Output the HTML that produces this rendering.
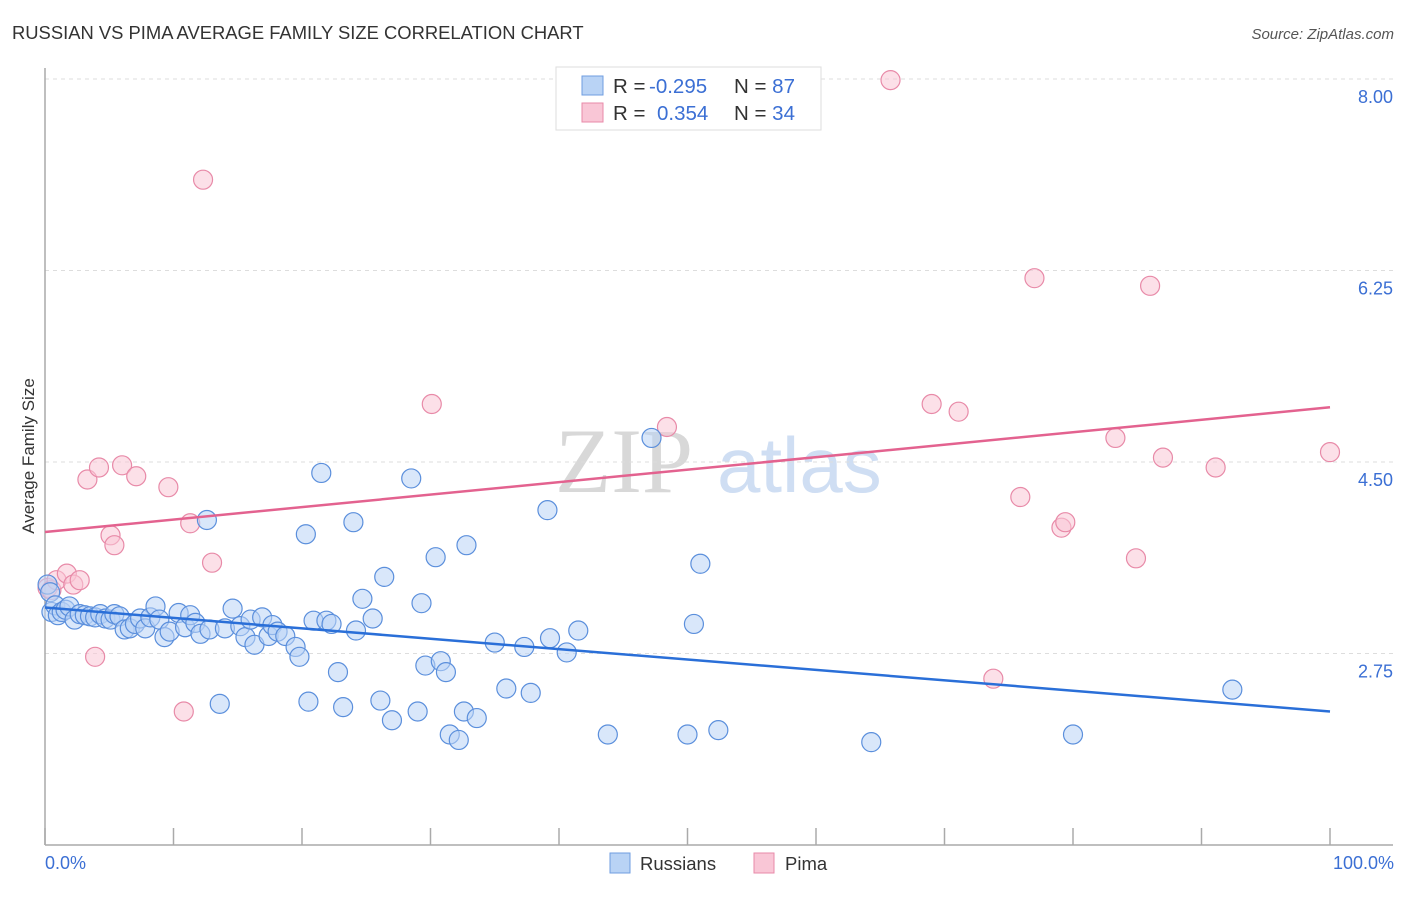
<!DOCTYPE html>
<html><head><meta charset="utf-8"><style>
body{margin:0;background:#fff;font-family:"Liberation Sans",sans-serif}
</style></head><body>
<svg width="1406" height="892" xmlns="http://www.w3.org/2000/svg" style="font-family:'Liberation Sans',sans-serif">
<text x="12" y="39" font-size="18.4" fill="#333">RUSSIAN VS PIMA AVERAGE FAMILY SIZE CORRELATION CHART</text>
<text x="1394" y="39" font-size="15" fill="#555" font-style="italic" text-anchor="end">Source: ZipAtlas.com</text>
<g>
<text x="555" y="492" font-size="92" font-family="Liberation Serif" fill="#d8d8d8">ZIP</text>
<text x="717" y="492" font-size="78" fill="#cfdef3">atlas</text>
</g>
<g id="grid"></g>
<g id="axes"></g>
<g id="marks"></g>
<text transform="translate(34,456) rotate(-90)" font-size="17" fill="#333" text-anchor="middle">Average Family Size</text>
<text x="45" y="869" font-size="18" fill="#3b6fd4">0.0%</text>
<text x="1394" y="869" font-size="18" fill="#3b6fd4" text-anchor="end">100.0%</text>
<g>
<rect x="556" y="67" width="265" height="63" fill="#fff" stroke="#ddd"/>
<rect x="582" y="76" width="21" height="19" fill="#b9d3f5" stroke="#6f9ee0"/>
<rect x="582" y="103" width="21" height="19" fill="#f9c6d6" stroke="#e88aa8"/>
<text x="613" y="93" font-size="20.5" fill="#333">R = <tspan x="649" fill="#3b6fd4">-0.295</tspan><tspan x="734">N = </tspan><tspan fill="#3b6fd4">87</tspan></text>
<text x="613" y="120" font-size="20.5" fill="#333">R = <tspan x="657" fill="#3b6fd4">0.354</tspan><tspan x="734">N = </tspan><tspan fill="#3b6fd4">34</tspan></text>
</g>
<g>
<rect x="610" y="853" width="20" height="20" fill="#b9d3f5" stroke="#6f9ee0"/>
<text x="640" y="870" font-size="18.5" fill="#333">Russians</text>
<rect x="754" y="853" width="20" height="20" fill="#f9c6d6" stroke="#e88aa8"/>
<text x="785" y="870" font-size="18.5" fill="#333">Pima</text>
</g>
</svg>
<script>
const yTicks=[8.00,6.25,4.50,2.75];
const yTickLabels=["8.00","6.25","4.50","2.75"];
const xTickCount=10;
const russiansX=[0.2,0.4,0.5,0.8,1.0,1.3,1.6,1.9,2.3,2.7,3.1,3.5,3.9,4.3,4.7,5.1,5.4,5.8,6.2,6.6,7.0,7.4,7.8,8.2,8.6,8.9,9.3,9.7,10.4,10.9,11.3,11.7,12.1,12.6,12.8,13.6,14.0,14.6,15.2,15.6,16.0,16.3,16.9,17.4,17.7,18.1,18.7,19.5,19.8,20.5,20.3,20.9,21.5,21.9,22.3,22.8,23.2,24.0,24.2,24.7,25.5,26.1,26.4,27.0,28.5,29.0,29.3,29.6,30.4,30.8,31.2,31.5,32.2,32.6,32.8,33.6,35.0,35.9,37.3,37.8,39.1,39.3,40.6,41.5,43.8,47.2,50.0,50.5,51.0,52.4,64.3,80.0,92.4];
const russiansY=[3.38,3.31,3.13,3.19,3.10,3.13,3.15,3.18,3.06,3.11,3.10,3.09,3.08,3.11,3.07,3.06,3.11,3.09,2.97,2.98,3.02,3.07,2.98,3.08,3.18,3.06,2.90,2.95,3.12,2.99,3.10,3.03,2.93,3.97,2.97,2.29,2.98,3.16,3.00,2.90,3.06,2.83,3.08,2.91,3.01,2.95,2.91,2.81,2.72,2.31,3.84,3.05,4.40,3.05,3.02,2.58,2.26,3.95,2.96,3.25,3.07,2.32,3.45,2.14,4.35,2.22,3.21,2.64,3.63,2.68,2.58,2.01,1.96,2.22,3.74,2.16,2.85,2.43,2.81,2.39,4.06,2.89,2.76,2.96,2.01,4.72,2.01,3.02,3.57,2.05,1.94,2.01,2.42];
const pimaX=[0.2,0.5,0.9,1.7,2.2,2.7,3.3,3.9,4.2,5.1,5.4,6.0,7.1,9.6,10.8,11.3,12.3,13.0,30.1,48.4,65.8,69.0,71.1,73.8,75.9,77.0,79.1,79.4,83.3,84.9,86.0,87.0,91.1,100];
const pimaY=[3.35,3.33,3.42,3.48,3.38,3.42,4.34,2.72,4.45,3.83,3.74,4.47,4.37,4.27,2.22,3.94,7.08,3.58,5.03,4.82,7.99,5.03,4.96,2.52,4.18,6.18,3.90,3.95,4.72,3.62,6.11,4.54,4.45,4.59];
const russiansTrend=[3.17,2.22];
const pimaTrend=[3.86,5.00];
const NS="http://www.w3.org/2000/svg";
const X0=45,X1=1330,GY0=79,PXU=109.43;
function xs(p){return X0+(X1-X0)*p/100;}
function ys(v){return GY0+(8-v)*PXU;}
function mk(tag,attrs,parent){const e=document.createElementNS(NS,tag);for(const k in attrs)e.setAttribute(k,attrs[k]);parent.appendChild(e);return e;}
const grid=document.getElementById('grid'),axes=document.getElementById('axes'),marks=document.getElementById('marks');
yTicks.forEach((t,i)=>{
 const l=mk('line',{x1:X0,x2:1393,y1:ys(t),y2:ys(t),stroke:'#ddd','stroke-dasharray':'4,4'},grid);
 
 
 const tx=mk('text',{x:1393,y:ys(t)+24,'font-size':18,fill:'#3b6fd4','text-anchor':'end'},grid);
 tx.textContent=yTickLabels[i];
 
 
});
const ya=mk('line',{x1:X0,x2:X0,y1:68,y2:845,stroke:'#aaa','stroke-width':1.5},axes);


const xa=mk('line',{x1:X0,x2:1393,y1:845,y2:845,stroke:'#aaa','stroke-width':1.5},axes);


for(let i=0;i<=xTickCount;i++){
 const t=mk('line',{x1:xs(i*10),x2:xs(i*10),y1:828,y2:845,stroke:'#aaa','stroke-width':1.5},axes);
 
 
}
function dots(X,Y,fill,stroke,name){
 X.forEach((x,i)=>{
  const c=mk('circle',{cx:xs(x),cy:ys(Y[i]),r:9.5,fill:fill,'fill-opacity':0.55,stroke:stroke,'stroke-width':1.2},marks);
  
  
 });
}
dots(pimaX,pimaY,'#f9c6d6','#e88aa8','pima-point');
dots(russiansX,russiansY,'#b9d3f5','#5b8fdc','russians-point');
const bl=mk('line',{x1:xs(0),x2:xs(100),y1:ys(russiansTrend[0]),y2:ys(russiansTrend[1]),stroke:'#2a6fd8','stroke-width':2.5},marks);


const pl=mk('line',{x1:xs(0),x2:xs(100),y1:ys(pimaTrend[0]),y2:ys(pimaTrend[1]),stroke:'#e3628f','stroke-width':2.5},marks);


</script>
</body></html>
